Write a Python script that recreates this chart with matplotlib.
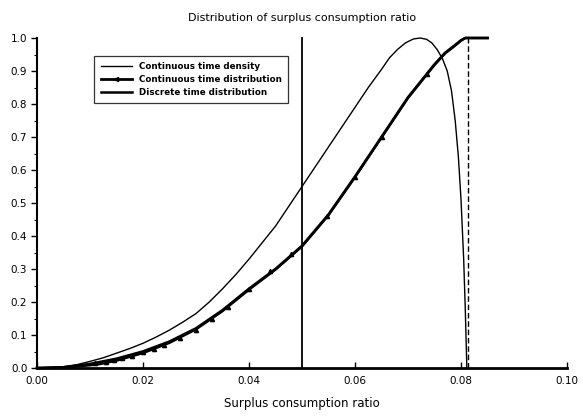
import numpy as np
import matplotlib.pyplot as plt

# ---- data ----
dens_x = [0.0, 0.005, 0.0075, 0.01, 0.0125, 0.015, 0.0175, 0.02, 0.0225, 0.025, 0.0275,
          0.03, 0.0325, 0.035, 0.0375, 0.04, 0.0425, 0.045, 0.0475, 0.05,
          0.0525, 0.055, 0.0575, 0.06, 0.0625, 0.065, 0.0665, 0.068, 0.0695, 0.071,
          0.0723, 0.0735, 0.0745, 0.0755, 0.0765, 0.0774, 0.0782, 0.0789, 0.0795,
          0.080, 0.0805, 0.0808, 0.0811]
dens_y = [0.0, 0.004, 0.01, 0.02, 0.031, 0.045, 0.059, 0.075, 0.094, 0.115, 0.139,
          0.165, 0.2, 0.24, 0.283, 0.33, 0.38, 0.43, 0.49, 0.55,
          0.61, 0.67, 0.73, 0.79, 0.85, 0.905, 0.94, 0.965, 0.985, 0.997,
          1.0, 0.996, 0.985, 0.965, 0.937, 0.90, 0.84, 0.75, 0.64,
          0.51, 0.33, 0.18, 0.0]

cont_x = [0.0, 0.005, 0.01, 0.015, 0.02, 0.025, 0.03, 0.035, 0.04, 0.045, 0.05,
          0.055, 0.06, 0.065, 0.07, 0.075, 0.077, 0.079, 0.080, 0.0808, 0.085]
cont_y = [0.0, 0.002, 0.012, 0.028, 0.05, 0.08, 0.12, 0.175, 0.24, 0.30, 0.37,
          0.465, 0.58, 0.70, 0.82, 0.92, 0.955, 0.98, 0.993, 1.0, 1.0]

mark_x = [0.011, 0.013, 0.0145, 0.016, 0.018, 0.020, 0.022, 0.024, 0.027, 0.030,
          0.033, 0.036, 0.040, 0.044, 0.048, 0.0547, 0.060, 0.065, 0.0735]
mark_y = [0.015, 0.019, 0.024, 0.029, 0.037, 0.047, 0.058, 0.069, 0.09, 0.115,
          0.148, 0.185, 0.24, 0.295, 0.345, 0.46, 0.58, 0.70, 0.89]

disc_x = [0.0, 0.005, 0.01, 0.012, 0.015, 0.02, 0.025, 0.03, 0.035, 0.04, 0.045,
          0.05, 0.055, 0.06, 0.065, 0.07, 0.075, 0.077, 0.079, 0.080, 0.0808, 0.085]
disc_y = [0.0, 0.001, 0.008, 0.012, 0.022, 0.045, 0.076, 0.117, 0.172, 0.237, 0.298,
          0.368, 0.463, 0.578, 0.698, 0.818, 0.918, 0.953, 0.978, 0.992, 1.0, 1.0]

vline_solid = 0.05
vline_dash = 0.0813

xticks = [0.0, 0.02, 0.04, 0.06, 0.08, 0.10]
yticks = [0.0, 0.1, 0.2, 0.3, 0.4, 0.5, 0.6, 0.7, 0.8, 0.9, 1.0]

plt.rcParams['font.family'] = 'DejaVu Sans'

fig = plt.figure(figsize=(5.83, 4.19), dpi=100)
ax = fig.add_axes([0.0635, 0.1217, 0.9091, 0.7876])

ax.plot(dens_x, dens_y, color='black', lw=1.0, clip_on=False)
ax.plot(cont_x, cont_y, color='black', lw=2.0, clip_on=False)
ax.plot(mark_x, mark_y, ls='none', marker='^', ms=3, color='black', clip_on=False)
ax.plot(disc_x, disc_y, color='black', lw=1.6, clip_on=False)

ax.plot([vline_solid, vline_solid], [0, 1.0], color='black', lw=1.3, clip_on=False)
ax.plot([vline_dash, vline_dash], [0, 1.0], color='black', lw=1.0, ls=(0, (4, 2)),
        clip_on=False)

# legend handles
h1, = ax.plot([], [], color='black', lw=1.0)
h2, = ax.plot([], [], color='black', lw=2.0, marker='<', ms=3, markevery=[0])
h3, = ax.plot([], [], color='black', lw=1.8)
leg = ax.legend([h1, h2, h3],
                ['Continuous time density', 'Continuous time distribution',
                 'Discrete time distribution'],
                loc='upper left', bbox_to_anchor=(0.1, 0.96),
                frameon=True, fancybox=False, edgecolor='black',
                handlelength=3.6, handletextpad=0.8, borderpad=0.7,
                labelspacing=0.45, prop={'weight': 'bold', 'size': 6.3})
leg.get_frame().set_linewidth(0.9)

ax.set_xlim(0, 0.10)
ax.set_ylim(0, 1.0)
ax.set_xticks(xticks)
ax.set_xticklabels(['%.2f' % v for v in xticks])
ax.set_yticks(yticks)
ax.set_yticklabels(['%.1f' % v for v in yticks])
ax.set_yticks(np.arange(0.05, 1.0, 0.1), minor=True)

ax.spines['top'].set_visible(False)
ax.spines['right'].set_visible(False)
ax.spines['bottom'].set_linewidth(2.0)
ax.spines['left'].set_linewidth(1.5)

ax.tick_params(axis='x', direction='in', length=4, width=1, labelsize=7.5, pad=6)
ax.tick_params(axis='y', which='major', direction='out', length=4, width=1,
               labelsize=7.5, pad=3)
ax.tick_params(axis='y', which='minor', direction='out', length=2, width=0.8)

ax.set_title('Distribution of surplus consumption ratio', fontsize=8, pad=12)
ax.set_xlabel('Surplus consumption ratio', fontsize=8.5, labelpad=8)

fig.savefig('out.png', dpi=100)
